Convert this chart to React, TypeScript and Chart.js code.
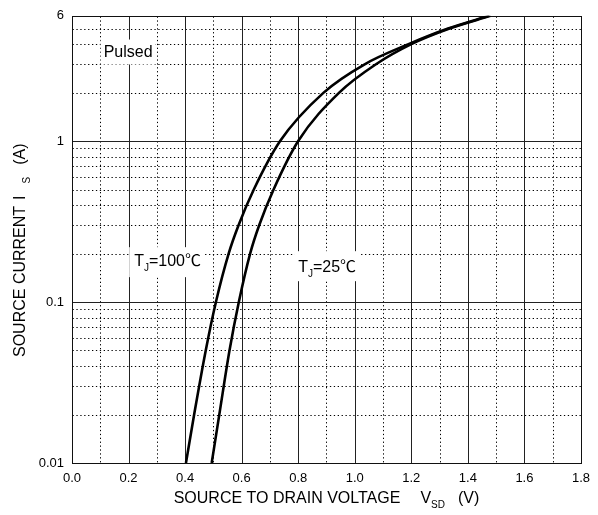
import React, { useEffect, useRef } from 'react';
import { Chart, registerables } from 'chart.js';

Chart.register(...registerables);

// ---- data ----
const currentA = [0.01, 0.02, 0.05, 0.1, 0.2, 0.3, 0.5, 1, 2, 3, 4, 5, 6];
const vsd25 = [0.494, 0.521, 0.557, 0.59, 0.63, 0.662, 0.713, 0.8, 0.945, 1.075, 1.2, 1.335, 1.48];
const vsd100 = [0.403, 0.432, 0.473, 0.509, 0.554, 0.589, 0.643, 0.736, 0.89, 1.035, 1.19, 1.33, 1.475];

const xTickValues = [0, 0.2, 0.4, 0.6, 0.8, 1.0, 1.2, 1.4, 1.6, 1.8];
const xTickLabels = ['0.0', '0.2', '0.4', '0.6', '0.8', '1.0', '1.2', '1.4', '1.6', '1.8'];
const xMinorGrid = [0.1, 0.3, 0.5, 0.7, 0.9, 1.1, 1.3, 1.5, 1.7];
const xMajorGrid = [0.2, 0.4, 0.6, 0.8, 1.0, 1.2, 1.4, 1.6];

const yTickValues = [0.01, 0.1, 1, 6];
const yTickLabels = ['0.01', '0.1', '1', '6'];
const yMajorGrid = [0.1, 1];
const yMinorGrid = [
  0.02, 0.03, 0.04, 0.05, 0.06, 0.07, 0.08, 0.09,
  0.2, 0.3, 0.4, 0.5, 0.6, 0.7, 0.8, 0.9,
  2, 3, 4, 5,
];

const FAMILY = '"Liberation Sans", Arial, "Noto Sans CJK SC", sans-serif';
const MAIN_FONT = `16px ${FAMILY}`;
const SUB_FONT = `10px ${FAMILY}`;
const SUB_OFFSET = 5;

type Part = { t?: string; sub?: boolean; gap?: number };

const pulsedParts: Part[] = [{ t: 'Pulsed' }];
const tj100Parts: Part[] = [{ t: 'T' }, { t: 'J', sub: true }, { t: '=100℃' }];
const tj25Parts: Part[] = [{ t: 'T' }, { t: 'J', sub: true }, { t: '=25℃' }];
const xTitleParts: Part[] = [
  { t: 'SOURCE TO DRAIN VOLTAGE' }, { gap: 20 }, { t: 'V' }, { t: 'SD', sub: true }, { gap: 13 }, { t: '(V)' },
];
const yTitleParts: Part[] = [
  { t: 'SOURCE CURRENT' }, { gap: 6 }, { t: 'I' }, { gap: 12 }, { t: 'S', sub: true }, { gap: 12 }, { t: '(A)' },
];

function measureParts(ctx: CanvasRenderingContext2D, parts: Part[]) {
  let w = 0;
  for (const p of parts) {
    if (p.gap) { w += p.gap; continue; }
    ctx.font = p.sub ? SUB_FONT : MAIN_FONT;
    w += ctx.measureText(p.t || '').width;
  }
  return w;
}

function drawParts(ctx: CanvasRenderingContext2D, parts: Part[], x0: number, base: number) {
  let x = x0;
  ctx.textAlign = 'left';
  ctx.textBaseline = 'alphabetic';
  for (const p of parts) {
    if (p.gap) { x += p.gap; continue; }
    ctx.font = p.sub ? SUB_FONT : MAIN_FONT;
    ctx.fillText(p.t || '', x, base + (p.sub ? SUB_OFFSET : 0));
    x += ctx.measureText(p.t || '').width;
  }
}

function drawBoxLabel(
  ctx: CanvasRenderingContext2D, parts: Part[], left: number, capCenter: number,
  padL: number, padR: number, padT: number, padB: number,
) {
  const w = measureParts(ctx, parts);
  ctx.fillStyle = '#fff';
  ctx.fillRect(left - padL, capCenter - padT, w + padL + padR, padT + padB);
  ctx.fillStyle = '#000';
  drawParts(ctx, parts, left, capCenter + 5.7);
}

const customPlugin = {
  id: 'customDraw',
  beforeDraw(chart: any) {
    const { ctx, width, height } = chart;
    ctx.save();
    ctx.fillStyle = '#fff';
    ctx.fillRect(0, 0, width, height);
    ctx.restore();
  },
  beforeDatasetsDraw(chart: any) {
    const { ctx, chartArea: a, scales } = chart;
    const xs = scales.x;
    const ys = scales.y;
    const px = (v: number) => Math.round(xs.getPixelForValue(v)) + 0.5;
    const py = (v: number) => Math.round(ys.getPixelForValue(v)) + 0.5;
    const L = Math.round(a.left) + 0.5;
    const R = Math.round(a.right) + 0.5;
    const T = Math.round(a.top) + 0.5;
    const B = Math.round(a.bottom) + 0.5;
    ctx.save();
    // dotted minor grid
    ctx.strokeStyle = '#000';
    ctx.lineWidth = 1;
    ctx.setLineDash([1.3, 2.6]);
    ctx.beginPath();
    xMinorGrid.forEach((v) => { const p = px(v); ctx.moveTo(p, T); ctx.lineTo(p, B); });
    yMinorGrid.forEach((v) => { const p = py(v); ctx.moveTo(L, p); ctx.lineTo(R, p); });
    ctx.stroke();
    // solid major grid
    ctx.setLineDash([]);
    ctx.strokeStyle = '#222';
    ctx.beginPath();
    xMajorGrid.forEach((v) => { const p = px(v); ctx.moveTo(p, T); ctx.lineTo(p, B); });
    yMajorGrid.forEach((v) => { const p = py(v); ctx.moveTo(L, p); ctx.lineTo(R, p); });
    ctx.stroke();
    // frame
    ctx.strokeStyle = '#111';
    ctx.strokeRect(L, T, R - L, B - T);
    // annotations
    drawBoxLabel(ctx, pulsedParts, xs.getPixelForValue(0.112), ys.getPixelForValue(3.6), 3, 3, 12, 13);
    drawBoxLabel(ctx, tj100Parts, xs.getPixelForValue(0.22), ys.getPixelForValue(0.182), 5, 3, 13, 17);
    drawBoxLabel(ctx, tj25Parts, xs.getPixelForValue(0.80), ys.getPixelForValue(0.167), 4, 3, 15, 15);
    ctx.restore();
  },
  afterDraw(chart: any) {
    const { ctx, chartArea: a } = chart;
    ctx.save();
    ctx.fillStyle = '#000';
    // x title, centred on the plot
    const wx = measureParts(ctx, xTitleParts);
    drawParts(ctx, xTitleParts, (a.left + a.right) / 2 - wx / 2, 503);
    // y title, rotated
    ctx.translate(24.5, 357);
    ctx.rotate(-Math.PI / 2);
    drawParts(ctx, yTitleParts, 0, 0);
    ctx.restore();
  },
};

const tickFont = { family: '"Liberation Sans", Arial, sans-serif', size: 13 };

export default function App() {
  const ref = useRef<HTMLCanvasElement | null>(null);
  useEffect(() => {
    if (!ref.current) return;
    const chart = new Chart(ref.current, {
      type: 'line',
      data: {
        datasets: [
          {
            label: 'TJ=25℃',
            data: vsd25.map((v, i) => ({ x: v, y: currentA[i] })),
            borderColor: '#000',
            borderWidth: 2.6,
            pointRadius: 0,
            fill: false,
            cubicInterpolationMode: 'monotone',
          },
          {
            label: 'TJ=100℃',
            data: vsd100.map((v, i) => ({ x: v, y: currentA[i] })),
            borderColor: '#000',
            borderWidth: 2.6,
            pointRadius: 0,
            fill: false,
            cubicInterpolationMode: 'monotone',
          },
        ],
      },
      options: {
        animation: false,
        responsive: true,
        maintainAspectRatio: false,
        devicePixelRatio: 1,
        layout: { padding: { left: 0, right: 10, top: 13, bottom: 0 } },
        plugins: { legend: { display: false }, tooltip: { enabled: false } },
        scales: {
          x: {
            type: 'linear',
            min: 0,
            max: 1.8,
            afterBuildTicks: (s: any) => { s.ticks = xTickValues.map((v) => ({ value: v })); },
            afterFit: (s: any) => { s.height = 52; },
            ticks: {
              callback: (_v: any, i: number) => xTickLabels[i],
              padding: 8,
              maxRotation: 0,
              autoSkip: false,
              color: '#000',
              font: tickFont,
            },
            grid: { display: false, drawTicks: false },
            border: { display: false },
          },
          y: {
            type: 'logarithmic',
            min: 0.01,
            max: 6,
            afterBuildTicks: (s: any) => { s.ticks = yTickValues.map((v) => ({ value: v })); },
            afterFit: (s: any) => { s.width = 72; },
            ticks: {
              callback: (_v: any, i: number) => yTickLabels[i],
              padding: 8,
              autoSkip: false,
              color: '#000',
              font: tickFont,
            },
            grid: { display: false, drawTicks: false },
            border: { display: false },
          },
        },
      } as any,
      plugins: [customPlugin],
    });
    return () => chart.destroy();
  }, []);
  return (
    <div style={{ position: 'absolute', left: 0, top: 0, width: 598, height: 515, background: '#fff' }}>
      <canvas ref={ref} />
    </div>
  );
}
